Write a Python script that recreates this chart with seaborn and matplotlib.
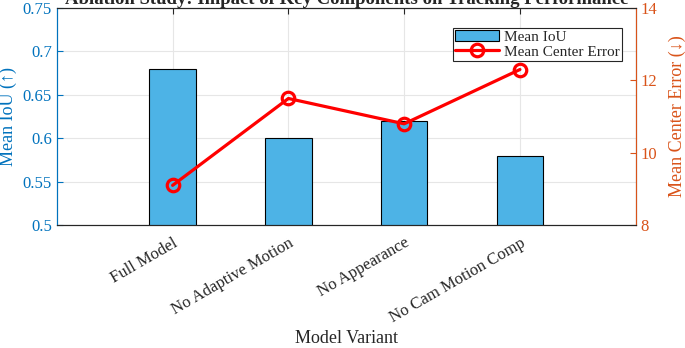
import numpy as np
import pandas as pd
import matplotlib
matplotlib.use('Agg')
import matplotlib.pyplot as plt
from matplotlib.patches import Patch
from matplotlib.lines import Line2D
import seaborn as sns

variants = ['Full Model', 'No Adaptive Motion', 'No Appearance', 'No Cam Motion Comp']
mean_iou = [0.68, 0.60, 0.62, 0.58]
center_error = [9.1, 11.5, 10.8, 12.3]

iou_ticks = [0.5, 0.55, 0.6, 0.65, 0.7, 0.75]
err_ticks = [8, 10, 12, 14]

blue = '#0072BD'
orange = '#D95319'
bar_color = '#4DB3E6'

sns.set_style('white')
plt.rcParams['font.family'] = ['Liberation Serif', 'DejaVu Serif']

df = pd.DataFrame({'variant': variants, 'iou': mean_iou, 'err': center_error})

fig = plt.figure(figsize=(6.85, 3.48), dpi=100)
ax = fig.add_axes([0.083, 0.353, 0.845, 0.624])

sns.barplot(data=df, x='variant', y='iou', color=bar_color, width=0.4,
            edgecolor='black', linewidth=0.8, saturation=1, ax=ax, zorder=2)
ax.set_xlim(-1, 4)
ax.set_ylim(0.5, 0.75)
ax.set_yticks(iou_ticks)
ax.set_yticklabels(['0.5', '0.55', '0.6', '0.65', '0.7', '0.75'])
ax.grid(True, color='#e6e6e6', linewidth=0.8, zorder=0)
ax.set_axisbelow(True)
ax.tick_params(axis='y', colors=blue, labelsize=12, direction='in', length=4)
ax.tick_params(axis='x', labelsize=12, direction='in', length=4, top=True, colors='#262626', pad=7)
plt.setp(ax.get_xticklabels(), rotation=30, ha='right', rotation_mode='anchor')
ax.set_ylabel('Mean IoU (↑)', color=blue, fontsize=13, labelpad=4)
ax.set_xlabel('Model Variant', fontsize=13, color='#262626', labelpad=3)
ax.spines['left'].set_color(blue)
ax.spines['top'].set_color('#262626')
ax.spines['bottom'].set_color('#262626')
for s in ax.spines.values():
    s.set_linewidth(0.8)

ax2 = ax.twinx()
sns.lineplot(x=np.arange(len(variants)), y=center_error, color='red', linewidth=2.3,
             marker='o', markersize=9, markerfacecolor='none', markeredgecolor='red',
             markeredgewidth=2.3, ax=ax2)
ax2.set_ylim(8, 14)
ax2.set_yticks(err_ticks)
ax2.tick_params(axis='y', colors=orange, labelsize=12, direction='in', length=4)
ax2.set_ylabel('Mean Center Error (↓)', color=orange, fontsize=13, labelpad=8)
ax2.spines['right'].set_color(orange)
ax2.spines['left'].set_color(blue)
ax2.spines['top'].set_color('#262626')

ax.set_title('Ablation Study: Impact of Key Components on Tracking Performance',
             fontsize=13.5, fontweight='bold', pad=2)

handles = [Patch(facecolor=bar_color, edgecolor='black', linewidth=0.8),
           Line2D([], [], color='red', linewidth=2.3, marker='o', markersize=9,
                  markerfacecolor='none', markeredgewidth=2.3)]
leg = ax2.legend(handles, ['Mean IoU', 'Mean Center Error'], loc='upper right',
                 bbox_to_anchor=(0.976, 0.91), fontsize=11, frameon=True, fancybox=False,
                 framealpha=1, edgecolor='#262626', borderpad=0.15, labelspacing=0.1,
                 handlelength=2.9, handletextpad=0.3, borderaxespad=0)
leg.get_frame().set_linewidth(0.8)

fig.savefig('out.png', dpi=100)
